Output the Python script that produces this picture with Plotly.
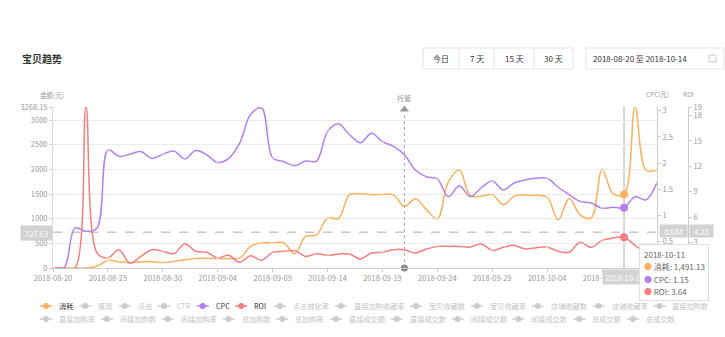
import plotly.graph_objects as go
import pandas as pd

# ---------------- data ----------------
start_date = "2018-08-20"
end_date = "2018-10-14"
dates = pd.date_range(start_date, end_date, freq="D")

spend = [0, 0, 0, 0, 40, 154, 128, 108, 125, 125,
         112, 132, 168, 195, 196, 190, 192, 200, 440, 510,
         508, 512, 290, 640, 670, 1015, 1005, 1490, 1505, 1490,
         1490, 1485, 1250, 1405, 1185, 995, 1750, 1990, 1470, 1455,
         1490, 1285, 1460, 1480, 1475, 1435, 980, 1410, 1080, 1015,
         1995, 1505, 1491.13, 3268.15, 1985, 1990]
cpc = [0, 0, 0.76, 0.70, 0.76, 2.25, 2.13, 2.17, 2.22, 2.09,
       2.17, 2.23, 2.08, 2.24, 2.16, 2.01, 2.09, 2.38, 2.93, 3.05,
       2.10, 2.03, 1.95, 2.04, 2.04, 2.60, 2.75, 2.54, 2.39, 2.57,
       2.41, 2.32, 2.16, 1.87, 1.74, 1.70, 1.36, 1.57, 1.36, 1.53,
       1.66, 1.49, 1.62, 1.68, 1.71, 1.71, 1.54, 1.40, 1.27, 1.24,
       1.14, 1.16, 1.15, 1.36, 1.30, 1.63]
roi = [0, 0, 0, 19, 1.8, 1.18, 2.16, 0.59, 1.37, 2.16,
       1.97, 1.69, 2.87, 1.97, 1.85, 1.18, 1.5, 0.67, 1.45, 0.9,
       1.85, 1.97, 2.05, 1.37, 1.69, 1.5, 1.65, 1.65, 1.06, 1.77,
       1.85, 2.16, 2.16, 1.77, 2.24, 2.55, 2.55, 2.55, 2.47, 2.83,
       2.08, 2.44, 2.67, 2.24, 2.4, 2.47, 1.97, 1.85, 3.03, 2.44,
       3.26, 3.54, 3.64, 2.67, 1.77, 1.4]

series_names = ["消耗", "CPC", "ROI"]
series_colors = ["#fbb15e", "#b380f2", "#f57f7f"]

spend_max = 3268.15
cpc_max = 3.07
roi_max = 19
spend_ticks = [0, 500, 1000, 1500, 2000, 2500, 3000, 3268.15]
cpc_ticks = [0.5, 1, 1.5, 2, 2.5, 3]
roi_ticks = [3, 6, 9, 12, 15, 18, 19]

hover_index = 52
crosshair_spend = 727.63
crosshair_cpc = 0.684
crosshair_roi = 4.23

managed_date = "2018-09-21"
managed_label = "托管"

title_text = "宝贝趋势"
range_buttons = ["今日", "7 天", "15 天", "30 天"]
date_range_text = "2018-08-20 至 2018-10-14"

legend_row1 = ["消耗", "展现", "点击", "CTR", "CPC", "ROI", "点击转化率", "直接加购收藏率",
               "宝贝收藏数", "宝贝收藏率", "店铺收藏数", "店铺收藏率", "直接加购数"]
legend_row2 = ["直接加购率", "间接加购数", "间接加购率", "总加购数", "总加购率", "直接成交额",
               "直接成交数", "间接成交额", "间接成交数", "总成交额", "总成交数"]

# ---------------- layout helpers ----------------
W, H = 725, 337
L, R, T, B = 53, 25, 107, 69
PW = W - L - R
PH = H - T - B
PLOT_RIGHT = 657
FONT = "Noto Sans CJK SC, Noto Sans, sans-serif"
GRAY = "#999"


def px(x):
    return (x - L) / PW


def py(y):
    return (H - B - y) / PH


fig = go.Figure()

axes_for = ["y", "y2", "y3"]
values_for = [spend, cpc, roi]
for name, color, ax, vals in zip(series_names, series_colors, axes_for, values_for):
    fig.add_trace(go.Scatter(
        x=dates, y=vals, name=name, yaxis=ax, mode="lines+markers",
        line=dict(color=color, width=1.5, shape="spline", smoothing=1.0),
        marker=dict(color=color, size=[2.5 if i % 5 == 0 else 0 for i in range(len(vals))]),
        showlegend=False, hoverinfo="skip"))

# hovered-point dots
for color, ax, vals in zip(series_colors, axes_for, values_for):
    fig.add_trace(go.Scatter(
        x=[dates[hover_index]], y=[vals[hover_index]], yaxis=ax, mode="markers",
        marker=dict(color=color, size=8), showlegend=False, hoverinfo="skip",
        cliponaxis=False))

# managed marker: arrow at top and dot at bottom
fig.add_trace(go.Scatter(
    x=[managed_date], y=[spend_max * 0.984], yaxis="y", mode="markers",
    marker=dict(symbol="triangle-up", size=8, color="#999"),
    showlegend=False, hoverinfo="skip", cliponaxis=False))
fig.add_trace(go.Scatter(
    x=[managed_date], y=[0], yaxis="y", mode="markers",
    marker=dict(symbol="circle", size=7, color="#888"),
    showlegend=False, hoverinfo="skip", cliponaxis=False))

shapes = []
annotations = []

# title
annotations.append(dict(text=f"<b>{title_text}</b>", x=px(20), y=py(58), xref="paper", yref="paper",
                        xanchor="left", yanchor="middle", showarrow=False,
                        font=dict(size=10, color="#333", family=FONT)))

# range buttons
btn_edges = [423, 459, 494, 534, 573]
shapes.append(dict(type="rect", xref="paper", yref="paper", x0=px(423), x1=px(573), y0=py(69), y1=py(48),
                   line=dict(color="#e3e3e3", width=1), fillcolor="white", layer="above"))
for e in btn_edges[1:-1]:
    shapes.append(dict(type="line", xref="paper", yref="paper", x0=px(e), x1=px(e), y0=py(69), y1=py(48),
                       line=dict(color="#e3e3e3", width=1), layer="above"))
for i, lab in enumerate(range_buttons):
    cx = (btn_edges[i] + btn_edges[i + 1]) / 2
    annotations.append(dict(text=lab, x=px(cx), y=py(58.5), xref="paper", yref="paper",
                            xanchor="center", yanchor="middle", showarrow=False,
                            font=dict(size=8, color="#333", family=FONT)))

# date picker
shapes.append(dict(type="rect", xref="paper", yref="paper", x0=px(586), x1=px(724), y0=py(69), y1=py(48),
                   line=dict(color="#e3e3e3", width=1), fillcolor="white", layer="above"))
annotations.append(dict(text=date_range_text, x=px(591), y=py(58.5), xref="paper", yref="paper",
                        xanchor="left", yanchor="middle", showarrow=False,
                        font=dict(size=8, color="#333", family=FONT)))
shapes.append(dict(type="rect", xref="paper", yref="paper", x0=px(709), x1=px(716), y0=py(62), y1=py(55),
                   line=dict(color="#ccc", width=1), layer="above"))

# axis titles
annotations.append(dict(text="金额(元)", x=px(52), y=py(95), xref="paper", yref="paper",
                        xanchor="center", yanchor="middle", showarrow=False,
                        font=dict(size=6.5, color=GRAY, family=FONT)))
annotations.append(dict(text="CPC(元)", x=px(657), y=py(94), xref="paper", yref="paper",
                        xanchor="center", yanchor="middle", showarrow=False,
                        font=dict(size=6.5, color=GRAY, family=FONT)))
annotations.append(dict(text="ROI", x=px(688), y=py(94), xref="paper", yref="paper",
                        xanchor="center", yanchor="middle", showarrow=False,
                        font=dict(size=6.5, color=GRAY, family=FONT)))

# managed line + label
shapes.append(dict(type="line", xref="x", yref="paper", x0=managed_date, x1=managed_date,
                   y0=0, y1=py(113), line=dict(color="#aaa", width=1, dash="dot")))
annotations.append(dict(text=managed_label, x=managed_date, y=py(98), xref="x", yref="paper",
                        xanchor="center", yanchor="middle", showarrow=False,
                        font=dict(size=7, color=GRAY, family=FONT)))

# crosshair
hover_date = dates[hover_index]
shapes.append(dict(type="line", xref="x", yref="paper", x0=hover_date, x1=hover_date, y0=0, y1=1,
                   line=dict(color="#d5d5d5", width=2), layer="below"))
shapes.append(dict(type="line", xref="paper", yref="y", x0=0, x1=px(PLOT_RIGHT),
                   y0=crosshair_spend, y1=crosshair_spend,
                   line=dict(color="#aaa", width=1, dash="dash")))
box_font = dict(size=7.5, color="white", family=FONT)
annotations.append(dict(text=f"{crosshair_spend:.2f}", x=px(53), y=py(233), xref="paper", yref="paper",
                        xanchor="right", yanchor="middle", showarrow=False, bgcolor="#d2d2d2",
                        width=28, height=11, borderpad=1.5, font=box_font))
annotations.append(dict(text=f"{crosshair_cpc:.3f}", x=px(659), y=py(231), xref="paper", yref="paper",
                        xanchor="left", yanchor="middle", showarrow=False, bgcolor="#d2d2d2",
                        width=25, height=10, borderpad=1, font=box_font))
annotations.append(dict(text=f"{crosshair_roi:.2f}", x=px(689), y=py(231), xref="paper", yref="paper",
                        xanchor="left", yanchor="middle", showarrow=False, bgcolor="#d2d2d2",
                        width=21, height=10, borderpad=1, font=box_font))
annotations.append(dict(text=hover_date.strftime("%Y-%m-%d"), x=hover_date, y=py(277), xref="x", yref="paper",
                        xanchor="center", yanchor="middle", showarrow=False, bgcolor="#d2d2d2",
                        width=40, height=11, borderpad=1.5, font=box_font))

# legend (drawn manually)
active_colors = dict(zip(series_names, series_colors))


def text_w(s):
    return sum(7.17 if ord(c) > 255 else 4.55 for c in s)


def draw_legend_row(items, y):
    xs = 40
    for it in items:
        col = active_colors.get(it, "#ccc")
        tcol = "#333" if it in active_colors else "#c4c4c4"
        shapes.append(dict(type="line", xref="paper", yref="paper", x0=px(xs), x1=px(xs + 12),
                           y0=py(y), y1=py(y), line=dict(color=col, width=1.5), layer="above"))
        shapes.append(dict(type="circle", xref="paper", yref="paper", x0=px(xs + 3), x1=px(xs + 9),
                           y0=py(y + 3), y1=py(y - 3), fillcolor=col, line=dict(color=col, width=0),
                           layer="above"))
        annotations.append(dict(text=it, x=px(xs + 17), y=py(y), xref="paper", yref="paper",
                                xanchor="left", yanchor="middle", showarrow=False,
                                font=dict(size=7.2, color=tcol, family=FONT)))
        xs += 18 + text_w(it) + 7


draw_legend_row(legend_row1, 306)
draw_legend_row(legend_row2, 319)

# tooltip
annotations.append(dict(text=" ", x=px(639), y=py(244), xref="paper", yref="paper",
                        xanchor="left", yanchor="top", showarrow=False, bgcolor="white",
                        bordercolor="#dedede", borderwidth=1, borderpad=0, width=68, height=55,
                        font=dict(size=8, family=FONT)))
tip_lines = [hover_date.strftime("%Y-%m-%d"),
             f"<span style='color:{series_colors[0]}'>●</span> {series_names[0]}: {spend[hover_index]:,.2f}",
             f"<span style='color:{series_colors[1]}'>●</span> {series_names[1]}: {cpc[hover_index]:.2f}",
             f"<span style='color:{series_colors[2]}'>●</span> {series_names[2]}: {roi[hover_index]:.2f}"]
for i, t in enumerate(tip_lines):
    annotations.append(dict(text=t, x=px(642), y=py(254 + i * 12.6), xref="paper", yref="paper",
                            xanchor="left", yanchor="middle", showarrow=False,
                            font=dict(size=8, color="#666", family=FONT)))

tick_font = dict(size=7.5, color=GRAY, family=FONT)
x_tickvals = list(dates[:-1:5])

fig.update_layout(
    width=W, height=H, margin=dict(l=L, r=R, t=T, b=B, pad=0),
    paper_bgcolor="white", plot_bgcolor="white",
    font=dict(family=FONT, color=GRAY),
    showlegend=False,
    xaxis=dict(type="date", domain=[0, px(PLOT_RIGHT)], range=[start_date, end_date],
               tickvals=x_tickvals, ticktext=[d.strftime("%Y-%m-%d") for d in x_tickvals],
               showgrid=False, zeroline=False, showline=True, linecolor="#ccc", linewidth=1,
               ticks="outside", ticklen=3, tickcolor="#ccc", tickfont=tick_font),
    yaxis=dict(range=[0, spend_max], tickvals=spend_ticks,
               ticktext=[f"{v:g}" if v != spend_max else f"{v:.2f}" for v in spend_ticks],
               showgrid=True, gridcolor="#ececec", zeroline=False, showline=True, linecolor="#ddd",
               ticks="outside", ticklen=3, tickcolor="#ccc", tickfont=tick_font),
    yaxis2=dict(range=[0, cpc_max], tickvals=cpc_ticks, ticktext=[f"{v:g}" for v in cpc_ticks],
                overlaying="y", side="right", anchor="x", showgrid=False, zeroline=False,
                showline=True, linecolor="#ccc", ticks="outside", ticklen=3, tickcolor="#ccc",
                tickfont=tick_font),
    yaxis3=dict(range=[0, roi_max], tickvals=roi_ticks, ticktext=[f"{v:g}" for v in roi_ticks],
                overlaying="y", side="right", anchor="free", position=px(688), showgrid=False,
                zeroline=False, showline=True, linecolor="#ccc", ticks="outside", ticklen=3,
                tickcolor="#ccc", tickfont=tick_font),
    shapes=shapes, annotations=annotations,
)

fig.write_html("out.html")
